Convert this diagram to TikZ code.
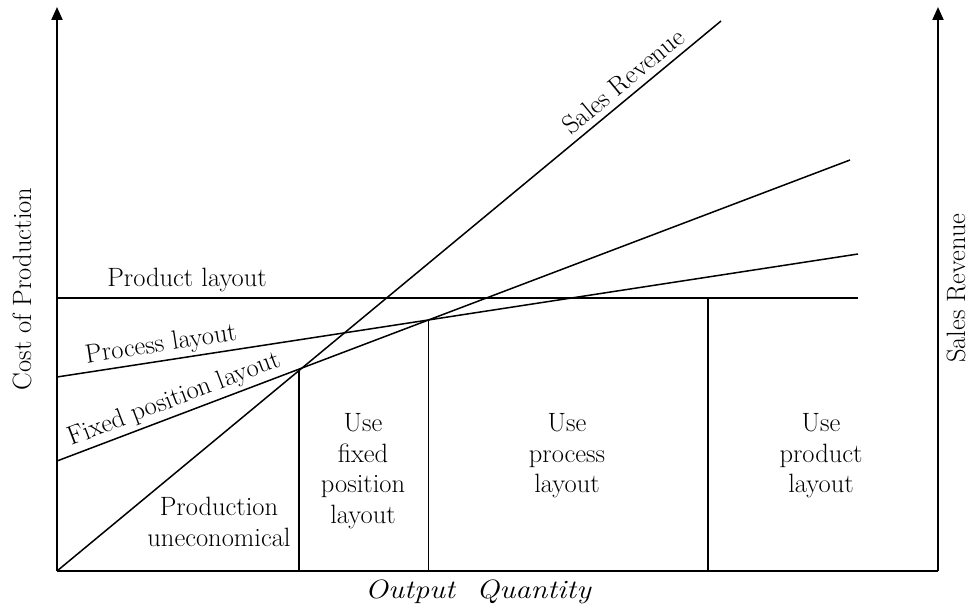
\documentclass[tikz,border=0pt]{standalone}
\usetikzlibrary{arrows.meta}
\begin{document}
\begin{tikzpicture}[x=1pt,y=-1pt,
  lbl/.style={font=\fontsize{26.5}{30.5}\selectfont, align=center, inner sep=2pt},
  ln/.style={line width=1.5pt},
  axis/.style={line width=2pt},
  arr/.style={-{Triangle[width=11pt,length=13pt]}}]
\useasboundingbox (0,0) rectangle (971,609);
% axes
\coordinate (o) at (57,571);
\coordinate (xe) at (938,571);
\coordinate (yl) at (57,7);
\coordinate (yr) at (938,7);
\draw[axis,arr] (o) -- (yl);
\draw[axis,arr] (xe) -- (yr);
\draw[axis] (o) -- (xe);
% lines
\coordinate (pr0) at (57,298);
\coordinate (pr1) at (858,298);
\coordinate (pc0) at (57,377);
\coordinate (pc1) at (858,254);
\coordinate (fx0) at (57,461);
\coordinate (fx1) at (850,160);
\coordinate (sr1) at (721,21);
\draw[ln] (pr0) -- (pr1);
\draw[ln] (pc0) -- node[lbl,pos=0.133,sloped,above,inner sep=3pt] (pclbl) {Process layout} (pc1);
\draw[ln] (fx0) -- node[lbl,pos=0.155,sloped,above,inner sep=3pt] (fxlbl) {Fixed position layout} (fx1);
\draw[ln] (o) -- node[lbl,pos=0.868,sloped,above,inner sep=6pt] (srlbl) {Sales Revenue} (sr1);
% dividers
\coordinate (i1) at (intersection of fx0--fx1 and 299,0--299,600);
\coordinate (i2) at (intersection of pc0--pc1 and fx0--fx1);
\coordinate (i3) at (708,298);
\draw[ln] (i1) -- (i1 |- o);
\draw[ln] (i2) -- (i2 |- o);
\draw[ln] (i3) -- (i3 |- o);
% labels
\node[lbl] (prlbl) at (187,280) {Product layout};
\node[lbl] (zone1) at (219,522) {Production\\uneconomical};
\node[lbl] (zone2) at (363,471) {Use\\fixed\\position\\layout};
\node[lbl] (zone3) at (567,456) {Use\\process\\layout};
\node[lbl] (zone4) at (821,456) {Use\\product\\layout};
\node[lbl,rotate=90] (ylab) at (22,289) {Cost of Production};
\node[lbl,rotate=90] (ylab2) at (956,288) {Sales Revenue};
\node[lbl,font=\fontsize{26.5}{30.5}\selectfont\itshape,xscale=1.15] (xlab) at (478,592) {Output\ \ Quantity};
\end{tikzpicture}
\end{document}
